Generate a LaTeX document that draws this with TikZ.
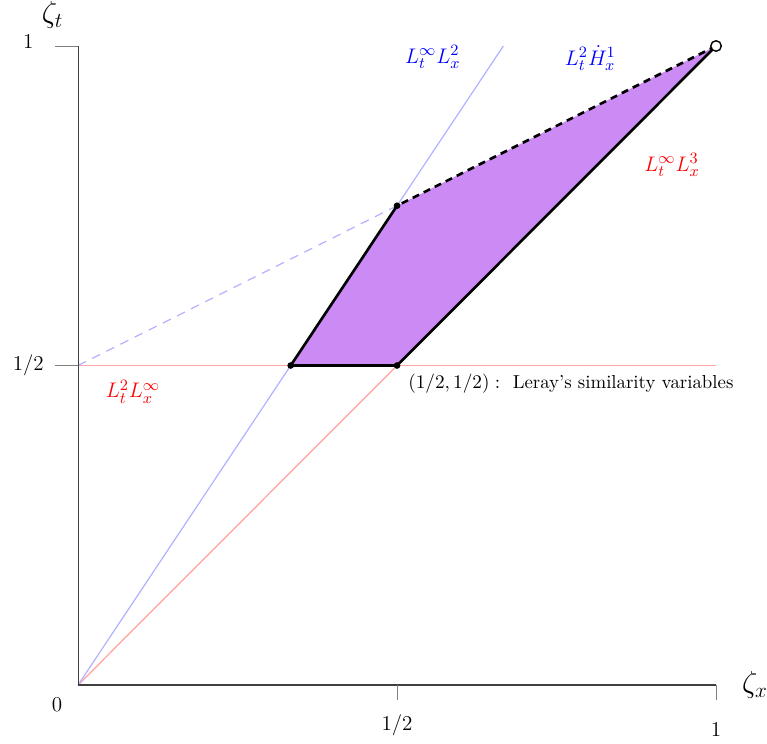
\documentclass[tikz,border=0pt]{standalone}
\usepackage{amsmath}
\usepackage{xcolor}
\definecolor{region}{HTML}{CC8AF5}
\definecolor{pinkline}{HTML}{FFA8A8}

\begin{document}
\begin{tikzpicture}[
    x=12.76cm, y=12.78cm,
    axis/.style={black!75, line width=0.6pt},
    tick/.style={black!50, line width=0.5pt},
    bline/.style={blue!30, line width=0.7pt},
    rline/.style={pinkline, line width=0.8pt},
    edge/.style={black, line width=1.5pt},
    vert/.style={circle, fill=black, inner sep=0pt, minimum size=3.8pt},
    open/.style={circle, draw=black, fill=white, line width=0.8pt, inner sep=0pt, minimum size=6pt},
    lab/.style={font=\fontsize{11.5}{14}\selectfont},
    norm/.style={font=\fontsize{13}{15}\selectfont}
]
  \useasboundingbox (-0.1223,-0.0923) rectangle (1.0799,1.072);

  % Points of the diagram
  \coordinate (O)  at (0,0);
  \coordinate (xh) at (0.5,0);
  \coordinate (x1) at (1,0);
  \coordinate (yh) at (0,0.5);
  \coordinate (y1) at (0,1);
  \coordinate (A)  at (1/3,0.5);
  \coordinate (B)  at (0.5,0.5);
  \coordinate (C)  at (1,1);
  \coordinate (D)  at (0.5,0.75);
  \coordinate (Bt) at (2/3,1);
  \coordinate (Rt) at (1,0.5);

  % Admissible region
  \fill[region] (A) -- (B) -- (C) -- (D) -- cycle;

  % Scaling lines
  \draw[rline] (O) -- (C);
  \draw[rline, line width=1.1pt] (yh) -- (Rt);
  \draw[bline] (O) -- (Bt);
  \draw[bline, dashed, dash pattern=on 5pt off 4pt] (yh) -- (D);

  % Axes and ticks
  \draw[axis] (x1) -- (O) -- (y1);
  \draw[tick] (xh) -- ++(0,-0.0235);
  \draw[tick] (x1) -- ++(0,-0.0235);
  \draw[tick] (yh) -- ++(-0.036,0);
  \draw[tick] (y1) -- ++(-0.036,0);

  % Boundary of the region
  \draw[edge, line join=round] (D) -- (A) -- (B) -- (C);
  \draw[edge, dash pattern=on 4pt off 3pt] (C) -- (D);
  \node[vert] (pA) at (A) {};
  \node[vert] (pB) at (B) {};
  \node[vert] (pD) at (D) {};
  \node[open] (pC) at (C) {};

  % Axis labels
  \node[font=\LARGE] (zt) at (-0.040,1.048) {$\zeta_t$};
  \node[font=\LARGE] (zx) at (1.061,0) {$\zeta_x$};
  \node[lab] (l0)  at (-0.033,-0.031) {$0$};
  \node[lab] (lxh) at (0.5,-0.063) {$1/2$};
  \node[lab] (lx1) at (1,-0.070) {$1$};
  \node[lab] (lyh) at (-0.078,0.5) {$1/2$};
  \node[lab] (ly1) at (-0.078,1.006) {$1$};

  % Space-time norms
  \node[norm, blue] (n1) at (0.556,0.983) {$L^\infty_t L^2_x$};
  \node[norm, blue] (n2) at (0.803,0.981) {$L^2_t \dot{H}^1_x$};
  \node[norm, red]  (n3) at (0.931,0.814) {$L^\infty_t L^3_x$};
  \node[norm, red]  (n4) at (0.086,0.459) {$L^2_t L^\infty_x$};
  \node[anchor=west, font=\fontsize{10.7}{13}\selectfont] (leray) at (0.508,0.471)
    {$(1/2,1/2):$\ \ Leray's similarity variables};
\end{tikzpicture}
\end{document}
